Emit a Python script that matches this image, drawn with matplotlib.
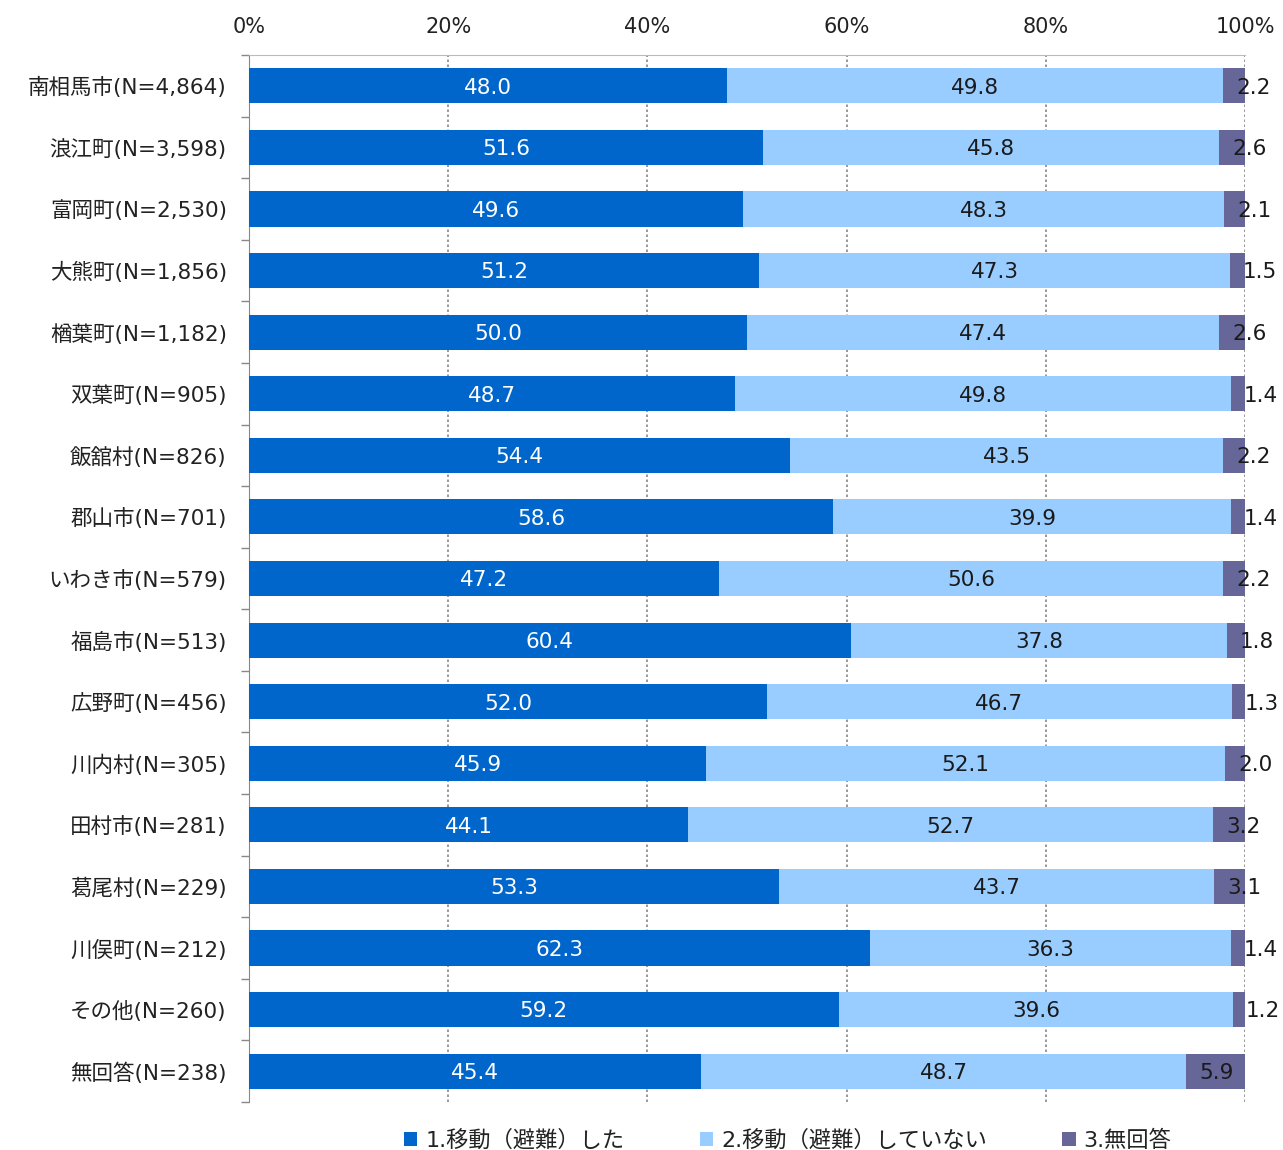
import matplotlib
matplotlib.use("Agg")
import matplotlib.pyplot as plt
import numpy as np

plt.rcParams['font.family'] = ['DejaVu Sans', 'Noto Sans CJK JP']

categories = ["南相馬市(N=4,864)", "浪江町(N=3,598)", "富岡町(N=2,530)", "大熊町(N=1,856)",
              "楢葉町(N=1,182)", "双葉町(N=905)", "飯舘村(N=826)", "郡山市(N=701)",
              "いわき市(N=579)", "福島市(N=513)", "広野町(N=456)", "川内村(N=305)",
              "田村市(N=281)", "葛尾村(N=229)", "川俣町(N=212)", "その他(N=260)", "無回答(N=238)"]
moved = [48.0, 51.6, 49.6, 51.2, 50.0, 48.7, 54.4, 58.6, 47.2, 60.4, 52.0, 45.9, 44.1, 53.3, 62.3, 59.2, 45.4]
not_moved = [49.8, 45.8, 48.3, 47.3, 47.4, 49.8, 43.5, 39.9, 50.6, 37.8, 46.7, 52.1, 52.7, 43.7, 36.3, 39.6, 48.7]
no_answer = [2.2, 2.6, 2.1, 1.5, 2.6, 1.4, 2.2, 1.4, 2.2, 1.8, 1.3, 2.0, 3.2, 3.1, 1.4, 1.2, 5.9]
series_names = ["1.移動（避難）した", "2.移動（避難）していない", "3.無回答"]
xticks = [0, 20, 40, 60, 80, 100]
xtick_labels = ["0%", "20%", "40%", "60%", "80%", "100%"]

colors = ["#0066CC", "#99CCFF", "#666699"]

fig = plt.figure(figsize=(12.83, 11.5), dpi=100)
ax = fig.add_axes([249/1283, 1 - 1102/1150, (1245-249)/1283, (1102-55)/1150])

y = np.arange(len(categories))
m = np.array(moved); n = np.array(not_moved); a = np.array(no_answer)
tot = m + n + a
m_s = m / tot * 100; n_s = n / tot * 100; a_s = a / tot * 100
h = 0.57
ax.barh(y, m_s, height=h, color=colors[0], label=series_names[0], zorder=3)
ax.barh(y, n_s, left=m_s, height=h, color=colors[1], label=series_names[1], zorder=3)
ax.barh(y, a_s, left=m_s + n_s, height=h, color=colors[2], label=series_names[2], zorder=3)

fs = 15.5
dy = 0.03
for i in range(len(categories)):
    ax.text(m_s[i] / 2, y[i] + dy, f"{moved[i]:.1f}", ha='center', va='center', color='white', fontsize=fs, zorder=4)
    ax.text(m_s[i] + n_s[i] / 2, y[i] + dy, f"{not_moved[i]:.1f}", ha='center', va='center', color='#1a1a1a', fontsize=fs, zorder=4)
    ax.text(m_s[i] + n_s[i] + 1.3, y[i] + dy, f"{no_answer[i]:.1f}", ha='left', va='center', color='#1a1a1a', fontsize=fs, zorder=4, clip_on=False)

ax.set_xlim(0, 100)
ax.set_ylim(len(categories) - 0.5, -0.5)
ax.set_xticks(xticks)
ax.set_xticklabels(xtick_labels, fontsize=15)
ax.xaxis.tick_top()
ax.tick_params(axis='x', length=0, pad=13, colors='#222222')
ax.set_yticks(y)
ax.set_yticklabels(categories, fontsize=15.5, color='#222222')
ax.tick_params(axis='y', length=0, pad=16)
ax.set_yticks(np.arange(len(categories) + 1) - 0.5, minor=True)
ax.tick_params(axis='y', which='minor', length=6, color='#888888', width=1)

for xv in xticks[1:]:
    ax.axvline(xv, color='#888888', linestyle=(0, (1.5, 1.5)), linewidth=1.2, zorder=1)

for s in ['right', 'bottom']:
    ax.spines[s].set_visible(False)
ax.spines['left'].set_color('#888888')
ax.spines['top'].set_color('#bbbbbb')

leg = fig.legend(loc='center', bbox_to_anchor=(0.614, 1 - 1140/1150), ncol=3, frameon=False,
                 fontsize=16, handlelength=0.6, handleheight=0.6, handletextpad=0.35, columnspacing=3.4)
for t in leg.get_texts():
    t.set_color('#222222')

fig.savefig("out.png", dpi=100)
